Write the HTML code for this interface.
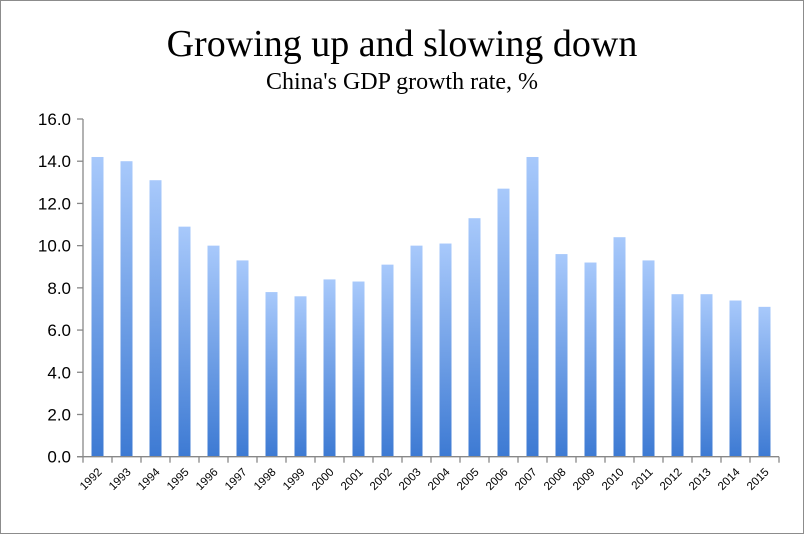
<!DOCTYPE html>
<html><head><meta charset="utf-8"><style>
body{margin:0;background:#fff}
#c{position:relative;width:805px;height:535px;overflow:hidden}
</style></head><body>
<div id="c">
<svg id="s" width="805" height="535" xmlns="http://www.w3.org/2000/svg">
<defs><linearGradient id="g" x1="0" y1="0" x2="0" y2="1"><stop offset="0" stop-color="#a8c9fb"/><stop offset="1" stop-color="#3d7ad3"/></linearGradient></defs>
<rect x="0.5" y="0.5" width="803" height="533" fill="#fff" stroke="#8c8c8c"/>
<text x="402" y="56" text-anchor="middle" font-family="Liberation Serif, serif" font-size="38" fill="#000">Growing up and slowing down</text>
<text x="402" y="89" text-anchor="middle" font-family="Liberation Serif, serif" font-size="24" fill="#000">China's GDP growth rate, %</text>
<g id="plot"></g>
</svg>
</div>
<script>
const years=["1992","1993","1994","1995","1996","1997","1998","1999","2000","2001","2002","2003","2004","2005","2006","2007","2008","2009","2010","2011","2012","2013","2014","2015"];
const growth=[14.2,14.0,13.1,10.9,10.0,9.3,7.8,7.6,8.4,8.3,9.1,10.0,10.1,11.3,12.7,14.2,9.6,9.2,10.4,9.3,7.7,7.7,7.4,7.1];
const yTicks=[0,2,4,6,8,10,12,14,16];
const yTickLabels=["0.0","2.0","4.0","6.0","8.0","10.0","12.0","14.0","16.0"];
const NS="http://www.w3.org/2000/svg";
const x0=83,step=29,y0=456.7,yTop=119,yMax=16;
const ys=v=>y0-(v/yMax)*(y0-yTop);
const xs=i=>x0+i*step;
const g=document.getElementById('plot');
function mk(t,a){const e=document.createElementNS(NS,t);for(const k in a)e.setAttribute(k,a[k]);g.appendChild(e);return e;}
growth.forEach((v,i)=>{
 const r=mk('rect',{x:xs(i)+8.5,y:ys(v),width:12,height:y0-ys(v),fill:'url(#g)'});
 
 
});
const ax=mk('line',{x1:x0,y1:yTop,x2:x0,y2:y0,stroke:'#888','stroke-width':1.3});


const bx=mk('line',{x1:x0-6,y1:y0,x2:xs(years.length),y2:y0,stroke:'#888','stroke-width':1.3});


yTicks.forEach((t,i)=>{
 mk('line',{x1:x0-6,y1:ys(t),x2:x0,y2:ys(t),stroke:'#888','stroke-width':1.3});
 const l=mk('text',{x:x0-12,y:ys(t)+6,'text-anchor':'end','font-family':'Liberation Sans, sans-serif','font-size':17,fill:'#000'});
 l.textContent=yTickLabels[i];
 
 
});
for(let i=0;i<=years.length;i++)mk('line',{x1:xs(i),y1:y0,x2:xs(i),y2:y0+6,stroke:'#888','stroke-width':1.3});
years.forEach((y,i)=>{
 const cx=xs(i)+step/2+5,cy=y0+16;
 const l=mk('text',{x:cx,y:cy,'text-anchor':'end','font-family':'Liberation Sans, sans-serif','font-size':11.5,fill:'#000',transform:`rotate(-45 ${cx} ${cy})`});
 l.textContent=y;
 
 
});
</script>
</body></html>
